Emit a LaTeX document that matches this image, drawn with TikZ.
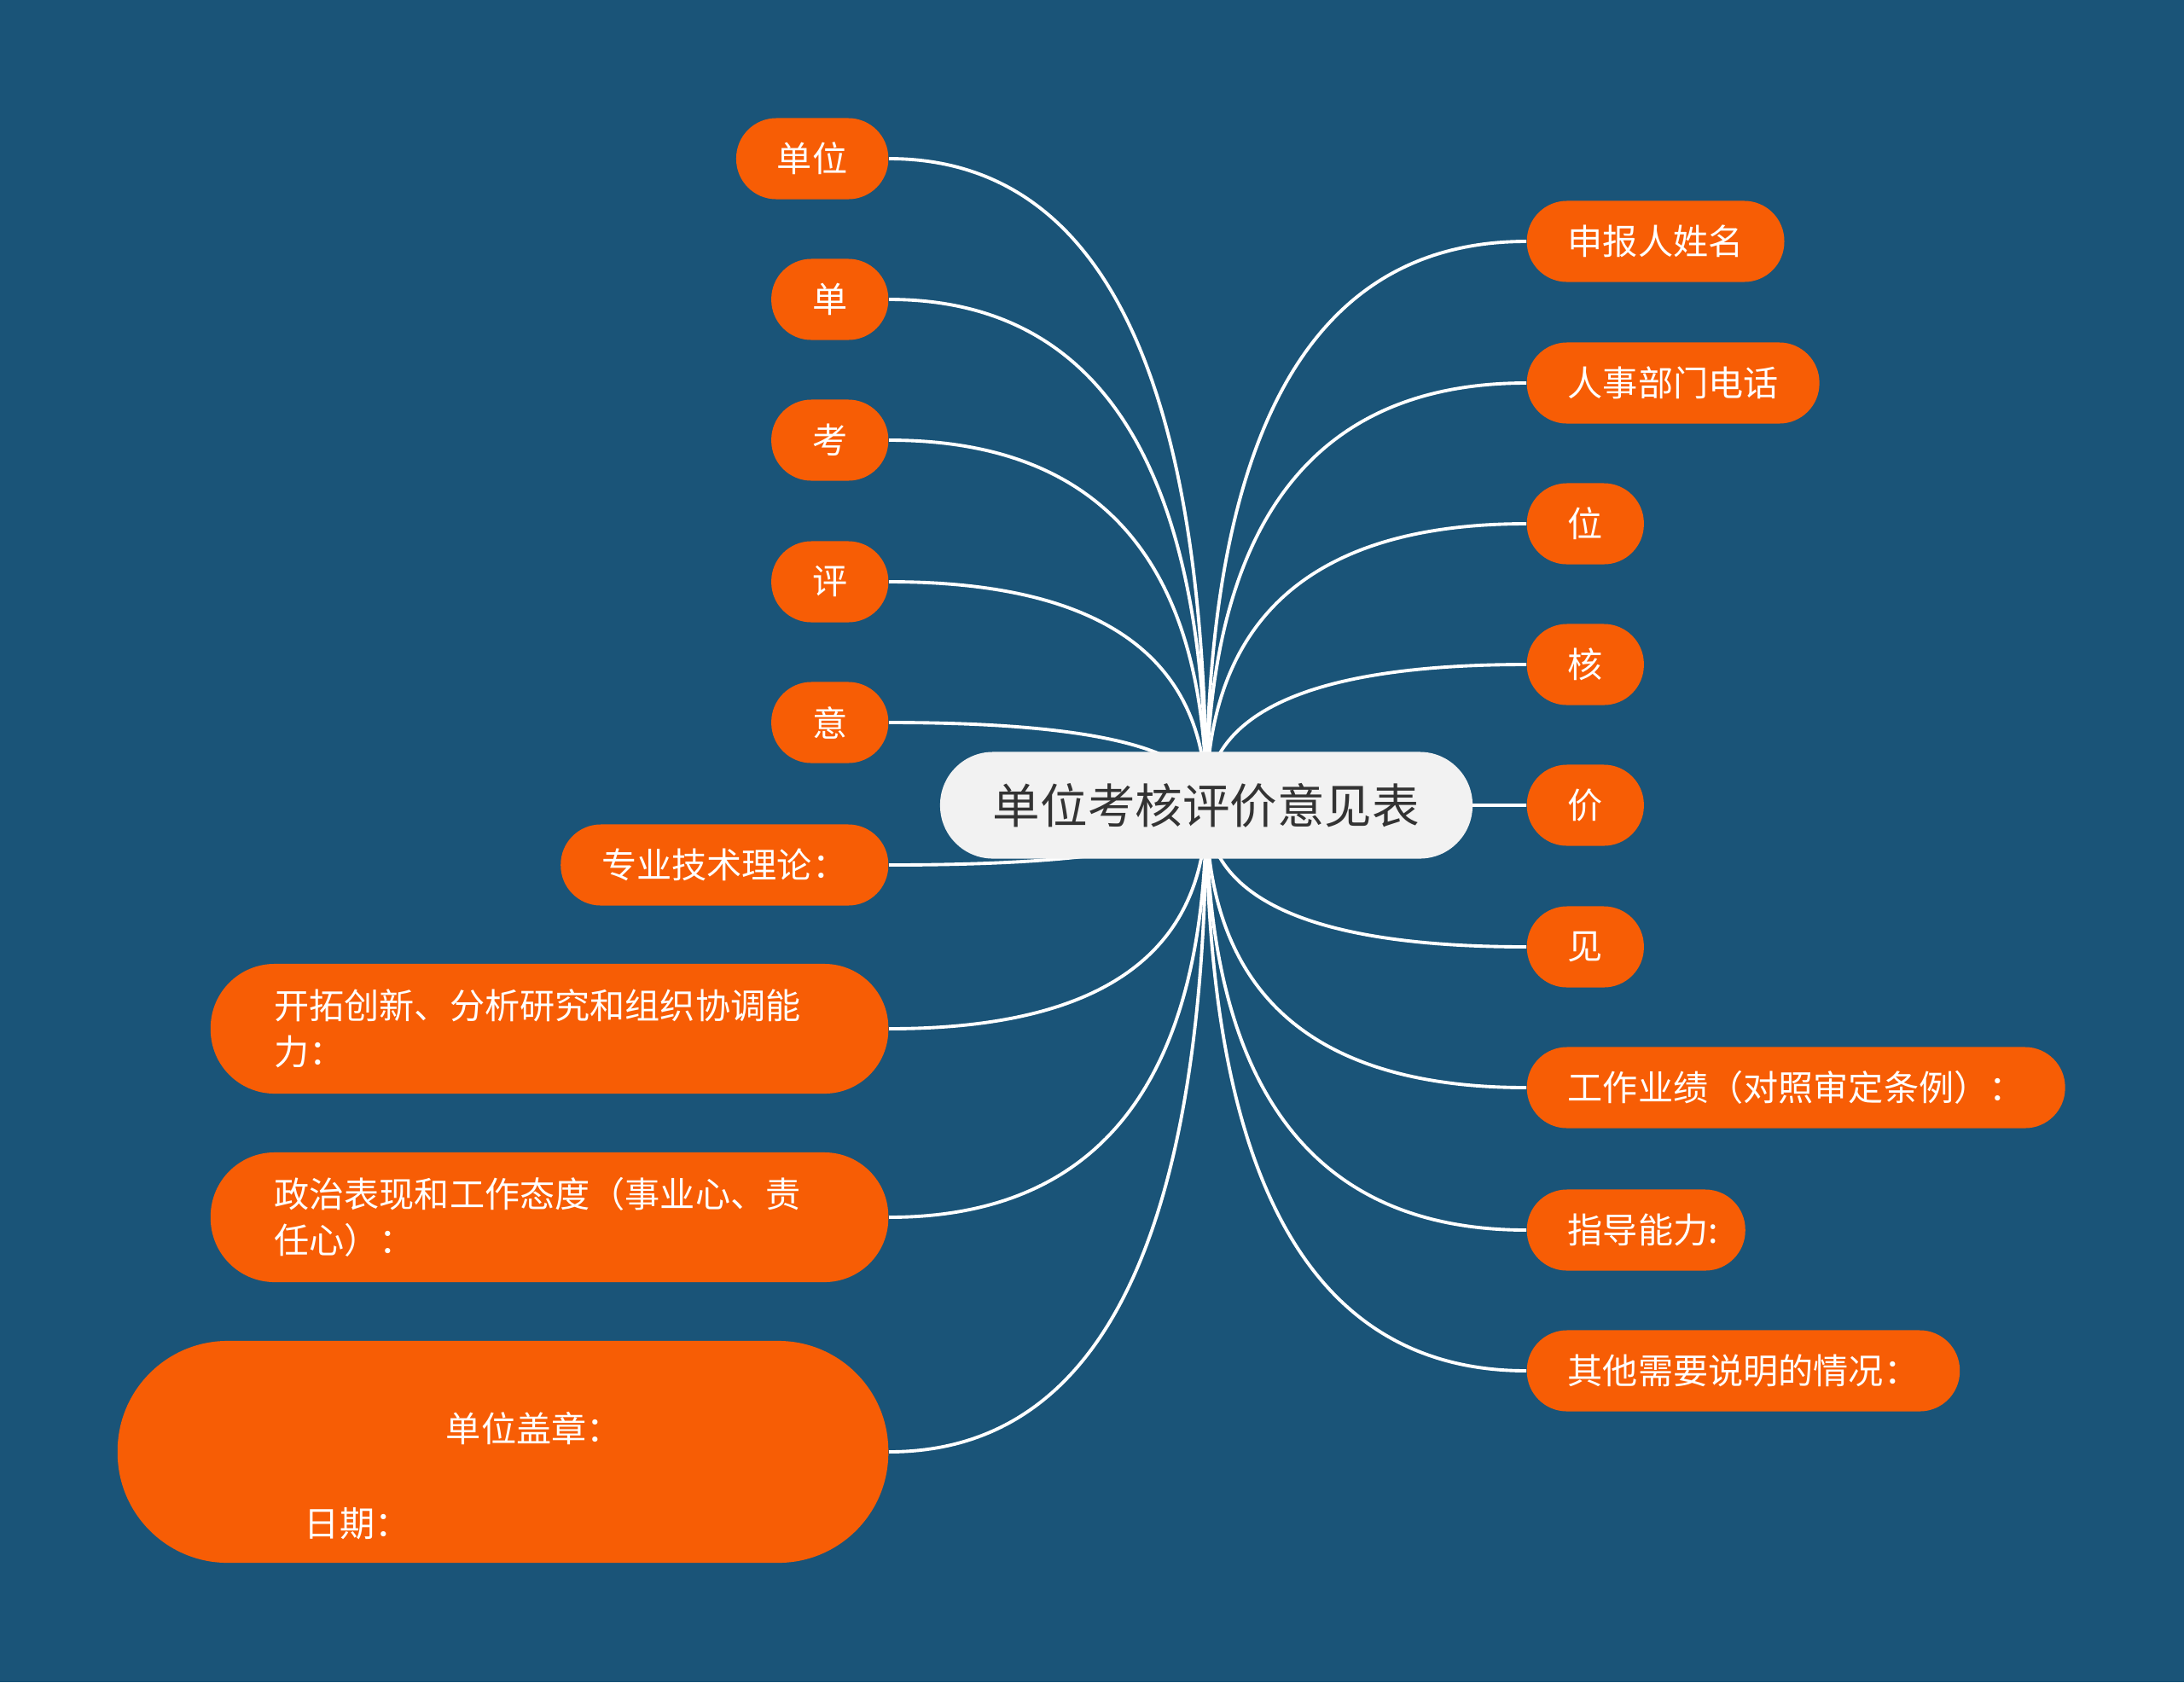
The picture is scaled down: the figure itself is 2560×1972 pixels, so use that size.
\documentclass[tikz,border=0pt]{standalone}
\usepackage{fontspec}
\setmainfont{Noto Sans CJK SC}
\usepackage{tikz}
\usetikzlibrary{positioning,calc}

\definecolor{bgblue}{RGB}{26,84,120}
\definecolor{leaforange}{RGB}{247,93,5}
\definecolor{rootgrey}{RGB}{242,242,242}
\definecolor{roottext}{RGB}{51,51,51}

\pgfdeclarelayer{back}
\pgfdeclarelayer{links}
\pgfsetlayers{back,links,main}

\tikzset{
    leaf/.style={rectangle, rounded corners=0.47cm, fill=leaforange, text=white,
        font=\fontsize{11.7pt}{15.4pt}\selectfont, inner xsep=0.48cm, inner ysep=0pt,
        minimum height=0.95cm},
    leafwide/.style={leaf, rounded corners=0.75cm, minimum height=1.52cm,
        text width=6.45cm, align=left, inner xsep=0.745cm},
    leafsign/.style={leaf, rounded corners=1.29cm, minimum height=2.6cm,
        text width=4.65cm, align=left, inner xsep=2.19cm},
    root/.style={rectangle, rounded corners=0.62cm, fill=rootgrey, text=roottext,
        font=\fontsize{15.8pt}{19pt}\selectfont, inner xsep=0.62cm, inner ysep=0pt,
        minimum height=1.25cm},
    link/.style={draw=white, line width=1.1pt,
        to path={.. controls ($(\tikztostart)!0.667!(\tikztotarget |- \tikztostart)$)
            and ($(\tikztotarget)!0.667!(\tikztotarget |- \tikztostart)$) .. (\tikztotarget)}}
}

\begin{document}
\begin{tikzpicture}[x=0.01cm, y=-0.01cm]
    \begin{pgfonlayer}{back}
        \fill[bgblue] (0,0) rectangle (2560,1972);
    \end{pgfonlayer}
    \useasboundingbox (0,0) rectangle (2560,1972);

    \node[root] (root) at (1414,944) {单位考核评价意见表};

    % left side
    \foreach \n/\y/\t in {l1/186/单位, l2/351/单, l3/516/考, l4/682/评, l5/847/意, l6/1014/专业技术理论：}
        \node[leaf, anchor=east] (\n) at (1042,\y) {\t};
    \node[leafwide, anchor=east] (l7) at (1042,1206) {开拓创新、分析研究和组织协调能\\力：};
    \node[leafwide, anchor=east] (l8) at (1042,1427) {政治表现和工作态度（事业心、责\\任心）：};
    \node[leafsign, anchor=east] (l9) at (1042,1702)
        {\hspace*{1.66cm}\rule{0pt}{0.92cm}单位盖章：\\[0.57cm]日期：};

    % right side
    \foreach \n/\y/\t in {r1/283/申报人姓名, r2/449/人事部门电话, r3/614/位, r4/779/核, r5/944/价,
        r6/1110/见, r7/1275/工作业绩（对照审定条例）：, r8/1442/指导能力:\kern-0.16cm, r9/1607/其他需要说明的情况：}
        \node[leaf, anchor=west] (\n) at (1789,\y) {\t};

    \begin{pgfonlayer}{links}
        \foreach \n in {l1,l2,l3,l4,l5,l6,l7,l8,l9}
            \draw[link] (\n.east) to (root.center);
        \foreach \n in {r1,r2,r3,r4,r5,r6,r7,r8,r9}
            \draw[link] (\n.west) to (root.center);
    \end{pgfonlayer}
\end{tikzpicture}
\end{document}
